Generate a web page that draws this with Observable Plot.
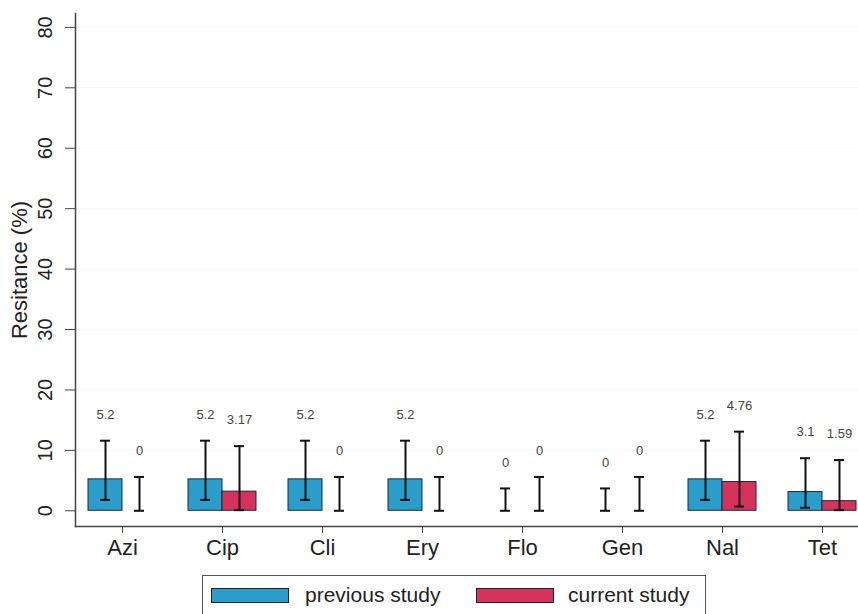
<!DOCTYPE html>
<html>
<head>
<meta charset="utf-8">
<script src="https://cdn.jsdelivr.net/npm/d3@7"></script>
<script src="https://cdn.jsdelivr.net/npm/@observablehq/plot@0.6"></script>
<style>
  body { margin: 0; background: #fff; font-family: "Liberation Sans", Arial, sans-serif; }
  #legend { position: relative; margin-left: 202px; margin-top: 7px; width: 504px; height: 60px;
            border: 1px solid #555; box-sizing: border-box; }
  .sw { position: absolute; top: 12px; width: 78px; height: 15px; border: 1px solid #222; box-sizing: border-box; }
  .lt { position: absolute; top: 7px; font-size: 21px; color: #222; }
  g[aria-label="y-axis label"] text { font-size: 22px; }
</style>
</head>
<body>
<div id="chart"></div>
<div id="legend">
  <div class="sw" style="left:8px;background:#2b9dcb"></div>
  <div class="lt" style="left:102px">previous study</div>
  <div class="sw" style="left:273px;background:#d6335c"></div>
  <div class="lt" style="left:365px">current study</div>
</div>
<script>
const categories = ["Azi", "Cip", "Cli", "Ery", "Flo", "Gen", "Nal", "Tet"];
const seriesNames = ["previous study", "current study"];
const previousValues = [5.2, 5.2, 5.2, 5.2, 0, 0, 5.2, 3.1];
const currentValues = [0, 3.17, 0, 0, 0, 0, 4.76, 1.59];
const previousLow = [1.8, 1.8, 1.8, 1.8, 0, 0, 1.8, 0.5];
const previousHigh = [11.6, 11.6, 11.6, 11.6, 3.7, 3.7, 11.6, 8.7];
const currentLow = [0, 0.1, 0, 0, 0, 0, 0.7, 0.1];
const currentHigh = [5.6, 10.7, 5.6, 5.6, 5.6, 5.6, 13.1, 8.4];
const previousLabels = ["5.2", "5.2", "5.2", "5.2", "0", "0", "5.2", "3.1"];
const currentLabels = ["0", "3.17", "0", "0", "0", "0", "4.76", "1.59"];
const yTicks = [0, 10, 20, 30, 40, 50, 60, 70, 80];
const colors = ["#2b9dcb", "#d6335c"];

const prev = categories.map((c, i) => ({cat: c, series: seriesNames[0], value: previousValues[i], lo: previousLow[i], hi: previousHigh[i], label: previousLabels[i]}));
const curr = categories.map((c, i) => ({cat: c, series: seriesNames[1], value: currentValues[i], lo: currentLow[i], hi: currentHigh[i], label: currentLabels[i]}));

const font = "'Liberation Sans', Arial, sans-serif";

const chart = Plot.plot({
  width: 858,
  height: 568,
  marginTop: 13,
  marginLeft: 75,
  marginRight: 0,
  marginBottom: 42,
  style: {fontFamily: font, background: "#fff", color: "#222"},
  x: {domain: categories, range: [72, 872], padding: 0},
  y: {domain: [-2.6, 82.3]},
  color: {domain: seriesNames, range: colors},
  marks: [
    Plot.gridY(yTicks.slice(1), {stroke: "#eef3f5", strokeOpacity: 0.4}),
    Plot.barY(prev.filter(d => d.value > 0), {x: "cat", y: "value", fill: "series", stroke: "#1d2b38", strokeWidth: 1, insetLeft: 16, insetRight: 50}),
    Plot.barY(curr.filter(d => d.value > 0), {x: "cat", y: "value", fill: "series", stroke: "#1d2b38", strokeWidth: 1, insetLeft: 50, insetRight: 16}),
    Plot.ruleX(prev, {x: "cat", y1: "lo", y2: "hi", dx: -17, stroke: "#111", strokeWidth: 2}),
    Plot.ruleX(curr, {x: "cat", y1: "lo", y2: "hi", dx: 17, stroke: "#111", strokeWidth: 2}),
    Plot.tickY(prev, {x: "cat", y: "lo", insetLeft: 28, insetRight: 62, stroke: "#111", strokeWidth: 2}),
    Plot.tickY(prev, {x: "cat", y: "hi", insetLeft: 28, insetRight: 62, stroke: "#111", strokeWidth: 2}),
    Plot.tickY(curr, {x: "cat", y: "lo", insetLeft: 62, insetRight: 28, stroke: "#111", strokeWidth: 2}),
    Plot.tickY(curr, {x: "cat", y: "hi", insetLeft: 62, insetRight: 28, stroke: "#111", strokeWidth: 2}),
    Plot.text(prev, {x: "cat", y: "hi", text: "label", dx: -17, dy: -26, fontSize: 13, fill: "#444"}),
    Plot.text(curr, {x: "cat", y: "hi", text: "label", dx: 17, dy: -26, fontSize: 13, fill: "#444"}),
    Plot.frame({anchor: "left", stroke: "#444", strokeWidth: 1.5}),
    Plot.frame({anchor: "bottom", stroke: "#444", strokeWidth: 1.5}),
    Plot.axisY({ticks: yTicks, tickSize: 10, tickPadding: 14, tickRotate: -90, fontSize: 20, stroke: "#444",
      label: "Resitance (%)", labelAnchor: "center", labelArrow: "none", labelOffset: 64}),
    Plot.axisX({tickSize: 7, tickPadding: 6, fontSize: 22, stroke: "#444", label: null})
  ]
});
document.getElementById("chart").appendChild(chart);
</script>
</body>
</html>
